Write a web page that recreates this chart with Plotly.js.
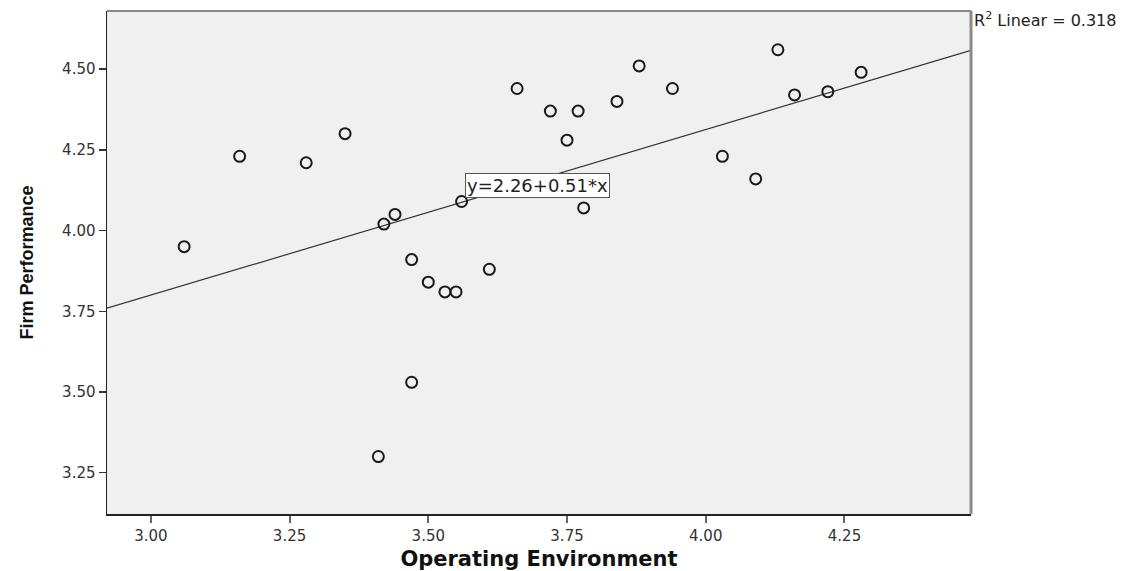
<!DOCTYPE html>
<html>
<head>
<meta charset="utf-8">
<script src="https://cdn.plot.ly/plotly-3.0.1.min.js"></script>
<style>html,body{margin:0;padding:0;background:#fff;}#chart{width:1139px;height:571px;}</style>
</head>
<body>
<div id="chart"></div>
<script>
// Data
const operatingEnvironment = [3.06, 3.16, 3.28, 3.35, 3.41, 3.42, 3.44, 3.47, 3.47, 3.50, 3.53, 3.55, 3.56, 3.61,
  3.66, 3.72, 3.75, 3.77, 3.78, 3.84, 3.88, 3.94, 4.03, 4.09, 4.13, 4.16, 4.22, 4.28];
const firmPerformance = [3.95, 4.23, 4.21, 4.30, 3.30, 4.02, 4.05, 3.91, 3.53, 3.84, 3.81, 3.81, 4.09, 3.88,
  4.44, 4.37, 4.28, 4.37, 4.07, 4.40, 4.51, 4.44, 4.23, 4.16, 4.56, 4.42, 4.43, 4.49];
const fitIntercept = 2.261;
const fitSlope = 0.513;
const rSquared = 0.318;
const xTicks = [3.00, 3.25, 3.50, 3.75, 4.00, 4.25];
const yTicks = [3.25, 3.50, 3.75, 4.00, 4.25, 4.50];

const xRange = [2.921, 4.478];
const yRange = [3.122, 4.680];
const fitX = xRange.slice();
const fitY = fitX.map(v => fitIntercept + fitSlope * v);

const font = "DejaVu Sans, Liberation Sans, Arial, sans-serif";

const traces = [
  {
    type: 'scatter', mode: 'lines', x: fitX, y: fitY,
    line: {color: '#333', width: 1.2}, hoverinfo: 'skip', showlegend: false
  },
  {
    type: 'scatter', mode: 'markers', x: operatingEnvironment, y: firmPerformance,
    marker: {symbol: 'circle-open', size: 11, color: '#1a1a1a', line: {color: '#1a1a1a', width: 2}},
    showlegend: false
  }
];

const layout = {
  width: 1139, height: 571,
  margin: {l: 107, r: 168, t: 11, b: 57},
  paper_bgcolor: '#ffffff', plot_bgcolor: '#f0f0f0',
  font: {family: font, color: '#333'},
  xaxis: {
    range: xRange, tickvals: xTicks, ticktext: xTicks.map(v => v.toFixed(2)),
    showgrid: false, zeroline: false, showline: true, linecolor: '#222', linewidth: 1.5,
    ticks: 'outside', ticklen: 7, tickwidth: 2, tickcolor: '#666',
    tickfont: {size: 15, color: '#333', family: font},
    title: {text: '<b>Operating Environment</b>', font: {size: 21, color: '#111', family: font}, standoff: 8},
    automargin: false, fixedrange: true
  },
  yaxis: {
    range: yRange, tickvals: yTicks, ticktext: yTicks.map(v => v.toFixed(2)),
    showgrid: false, zeroline: false, showline: true, linecolor: '#222', linewidth: 1.5,
    ticks: 'outside', ticklen: 7, tickwidth: 1.5, tickcolor: '#333',
    tickfont: {size: 15, color: '#333', family: font},
    title: {text: '<b>Firm Performance</b>', font: {size: 18, color: '#111', family: "Liberation Sans Narrow, Arial Narrow, Liberation Sans, Arial, sans-serif"}, standoff: 24},
    automargin: false, fixedrange: true
  },
  shapes: [
    {type: 'line', xref: 'paper', yref: 'paper', x0: 0, x1: 1, y0: 1, y1: 1, line: {color: '#8a8a8a', width: 2}},
    {type: 'line', xref: 'paper', yref: 'paper', x0: 1, x1: 1, y0: 0, y1: 1, line: {color: '#8a8a8a', width: 3}}
  ],
  annotations: [
    {
      x: 3.697, y: 4.141, xref: 'x', yref: 'y', showarrow: false,
      text: 'y=2.26+0.51*x', font: {size: 18, color: '#222', family: font},
      bgcolor: '#ffffff', bordercolor: '#555', borderwidth: 1, borderpad: 1
    },
    {
      x: 1, y: 1, xref: 'paper', yref: 'paper', xanchor: 'left', yanchor: 'top', xshift: 1, yshift: 4,
      showarrow: false, align: 'left',
      text: 'R<sup>2</sup> Linear = ' + rSquared.toFixed(3), font: {size: 16, color: '#222', family: font}
    }
  ]
};

Plotly.newPlot('chart', traces, layout, {displayModeBar: false, staticPlot: true});
</script>
</body>
</html>
